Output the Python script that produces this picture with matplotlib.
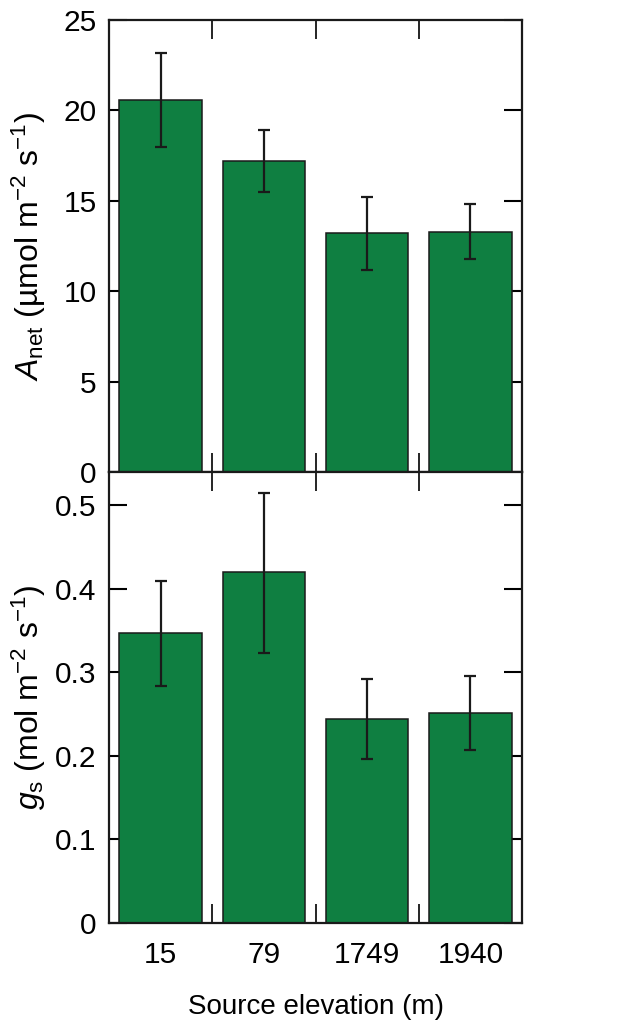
import matplotlib
matplotlib.use("Agg")
import matplotlib.pyplot as plt
from matplotlib.ticker import FixedLocator

FONT = 'Liberation Sans'
plt.rcParams['font.family'] = [FONT, 'DejaVu Sans']
plt.rcParams['mathtext.fontset'] = 'custom'
plt.rcParams['mathtext.rm'] = FONT
plt.rcParams['mathtext.it'] = FONT + ':italic'
plt.rcParams['mathtext.default'] = 'regular'

categories = ['15', '79', '1749', '1940']
anet_mean = [20.6, 17.2, 13.2, 13.3]
anet_lo = [18.0, 15.5, 11.2, 11.8]
anet_hi = [23.2, 18.9, 15.2, 14.8]
gs_mean = [0.347, 0.420, 0.244, 0.251]
gs_lo = [0.283, 0.323, 0.196, 0.207]
gs_hi = [0.410, 0.515, 0.292, 0.295]

GREEN = '#0f7f41'
W, H = 629, 1026
fig = plt.figure(figsize=(W / 100, H / 100), dpi=100)
left = 109 / W
width = 413 / W
ax1 = fig.add_axes([left, (H - 472) / H, width, 452 / H])
ax2 = fig.add_axes([left, (H - 922.7) / H, width, 450.7 / H])

x = list(range(len(categories)))
fs = 21.5
fl = 23

def draw(ax, mean, lo, hi, ylim, yticks, ylabel, show_x):
    yerr = [[m - l for m, l in zip(mean, lo)], [h - m for m, h in zip(mean, hi)]]
    ax.bar(x, mean, width=0.8, color=GREEN, edgecolor='#1a1a1a', linewidth=1.1, zorder=2)
    ax.errorbar(x, mean, yerr=yerr, fmt='none', ecolor='#1a1a1a', elinewidth=1.6,
                capsize=4, capthick=1.6, zorder=3)
    ax.set_xlim(-0.5, len(categories) - 0.5)
    ax.set_ylim(*ylim)
    ax.set_yticks(yticks)
    ax.set_xticks(x)
    ax.xaxis.set_minor_locator(FixedLocator([0.5, 1.5, 2.5]))
    if show_x:
        ax.set_xticklabels(categories)
    else:
        ax.set_xticklabels([])
    ax.tick_params(axis='x', which='major', length=0, pad=13, labelsize=fs)
    ax.tick_params(axis='x', which='minor', direction='in', length=14, width=1.2,
                   top=True, bottom=True)
    ax.tick_params(axis='y', which='major', direction='in', length=13, width=1.5,
                   left=True, right=True, labelsize=fs, pad=9)
    for s in ax.spines.values():
        s.set_linewidth(1.6)
        s.set_color('#1a1a1a')
    ax.set_ylabel(ylabel, fontsize=fl)

draw(ax1, anet_mean, anet_lo, anet_hi, (0, 25), [0, 5, 10, 15, 20, 25],
     r'$\mathit{A}_{\mathrm{net}}$ (µmol m$^{-2}$ s$^{-1}$)', False)
draw(ax2, gs_mean, gs_lo, gs_hi, (0, 0.54), [0, 0.1, 0.2, 0.3, 0.4, 0.5],
     r'$\mathit{g}_{\mathrm{s}}$ (mol m$^{-2}$ s$^{-1}$)', True)
ax2.set_yticklabels(['0', '0.1', '0.2', '0.3', '0.4', '0.5'])
ax2.set_xlabel('Source elevation (m)', fontsize=20, labelpad=18)
ax1.yaxis.set_label_coords(-0.148, 0.5)
ax2.yaxis.set_label_coords(-0.148, 0.5)

fig.savefig('out.png', dpi=100)
